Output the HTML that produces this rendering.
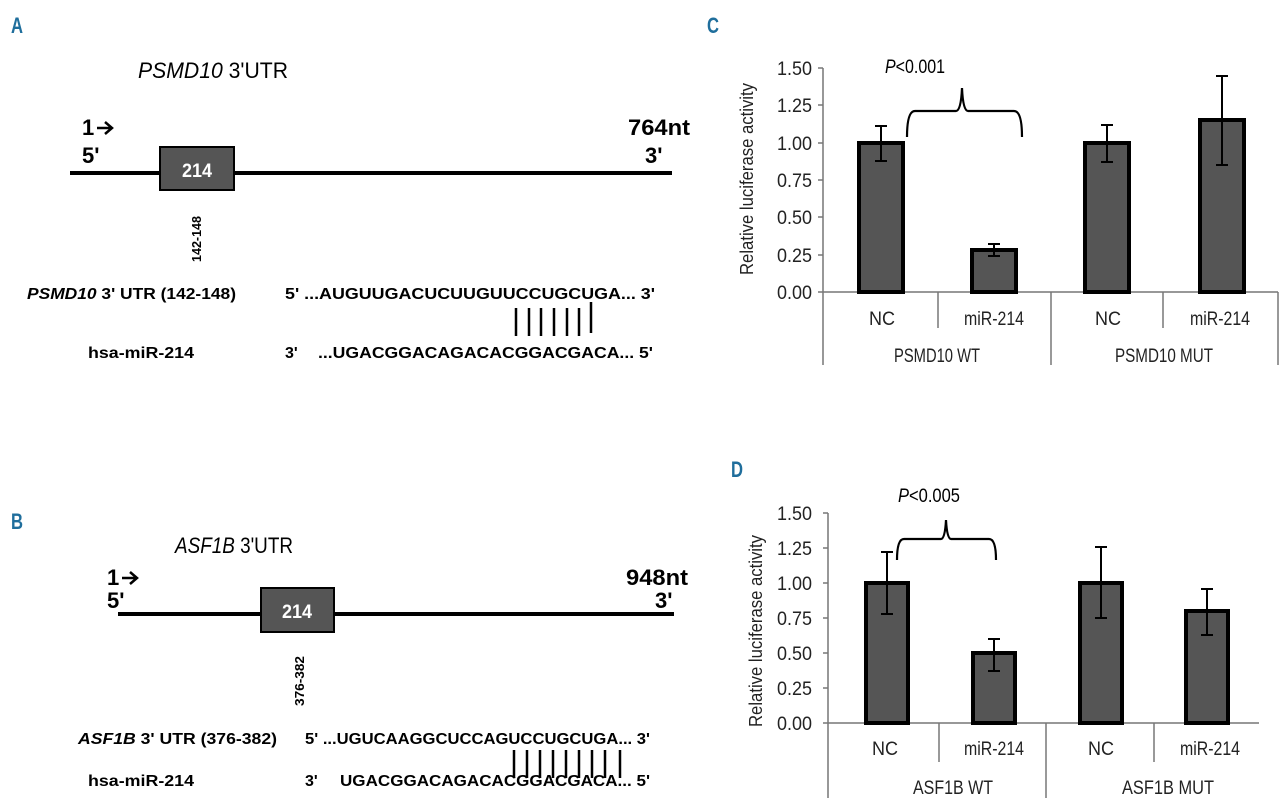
<!DOCTYPE html>
<html><head><meta charset="utf-8"><style>
html,body{margin:0;padding:0;background:#fff;}
svg{display:block;}
.n{font-family:"Liberation Sans",sans-serif;}
.b{font-family:"Liberation Sans",sans-serif;font-weight:bold;}
.lab{font-family:"Liberation Sans",sans-serif;font-weight:bold;fill:#1f6e9c;font-size:22px;}
</style></head><body>
<svg width="1280" height="808" viewBox="0 0 1280 808" xmlns="http://www.w3.org/2000/svg">
<rect width="1280" height="808" fill="#fff"/>
<!-- Panel labels -->
<text class="lab" x="11" y="33" textLength="12" lengthAdjust="spacingAndGlyphs">A</text>
<text class="lab" x="11" y="529" textLength="12" lengthAdjust="spacingAndGlyphs">B</text>
<text class="lab" x="707" y="33" textLength="12" lengthAdjust="spacingAndGlyphs">C</text>
<text class="lab" x="731" y="477" textLength="12" lengthAdjust="spacingAndGlyphs">D</text>

<!-- Panel A -->
<text class="n" x="138" y="78" font-size="22" textLength="150" lengthAdjust="spacingAndGlyphs"><tspan font-style="italic">PSMD10</tspan> 3'UTR</text>
<text class="b" x="82" y="135" font-size="22">1</text>
<path d="M97 128H111M105 122L112 128L105 134" stroke="#000" stroke-width="2.5" fill="none"/>
<text class="b" x="82" y="163" font-size="22">5'</text>
<text class="b" x="628" y="135" font-size="22" textLength="62" lengthAdjust="spacingAndGlyphs">764nt</text>
<text class="b" x="645" y="163" font-size="22">3'</text>
<line x1="70" y1="173" x2="672" y2="173" stroke="#000" stroke-width="4"/>
<rect x="160" y="147" width="74" height="43" fill="#555" stroke="#000" stroke-width="2"/>
<text class="b" x="197" y="177" font-size="19" fill="#fff" text-anchor="middle" textLength="30" lengthAdjust="spacingAndGlyphs">214</text>
<text class="b" font-size="13" transform="translate(201,262) rotate(-90)" textLength="46" lengthAdjust="spacingAndGlyphs">142-148</text>
<text class="b" x="27" y="299" font-size="16" textLength="209" lengthAdjust="spacingAndGlyphs"><tspan font-style="italic">PSMD10</tspan>  3' UTR (142-148)</text>
<text class="b" x="285" y="299" font-size="16" textLength="370" lengthAdjust="spacingAndGlyphs">5' ...AUGUUGACUCUUGUUCCUGCUGA... 3'</text>
<g stroke="#000" stroke-width="2.5">
<line x1="516" y1="308" x2="516" y2="336"/><line x1="529" y1="308" x2="529" y2="336"/><line x1="541" y1="308" x2="541" y2="336"/><line x1="554" y1="308" x2="554" y2="336"/><line x1="567" y1="308" x2="567" y2="336"/><line x1="579" y1="308" x2="579" y2="336"/><line x1="591" y1="302" x2="591" y2="333"/>
</g>
<text class="b" x="88" y="358" font-size="16" textLength="106" lengthAdjust="spacingAndGlyphs">hsa-miR-214</text>
<text class="b" x="285" y="358" font-size="16">3'</text>
<text class="b" x="318" y="358" font-size="16" textLength="335" lengthAdjust="spacingAndGlyphs">...UGACGGACAGACACGGACGACA... 5'</text>

<!-- Panel B -->
<text class="n" x="175" y="553" font-size="22" textLength="118" lengthAdjust="spacingAndGlyphs"><tspan font-style="italic">ASF1B</tspan> 3'UTR</text>
<text class="b" x="107" y="585" font-size="22">1</text>
<path d="M122 578H136M130 572L137 578L130 584" stroke="#000" stroke-width="2.5" fill="none"/>
<text class="b" x="107" y="608" font-size="22">5'</text>
<text class="b" x="626" y="585" font-size="22" textLength="62" lengthAdjust="spacingAndGlyphs">948nt</text>
<text class="b" x="655" y="608" font-size="22">3'</text>
<line x1="118" y1="614" x2="674" y2="614" stroke="#000" stroke-width="4"/>
<rect x="261" y="588" width="73" height="44" fill="#555" stroke="#000" stroke-width="2"/>
<text class="b" x="297" y="618" font-size="19" fill="#fff" text-anchor="middle" textLength="30" lengthAdjust="spacingAndGlyphs">214</text>
<text class="b" font-size="13" transform="translate(304,706) rotate(-90)" textLength="50" lengthAdjust="spacingAndGlyphs">376-382</text>
<text class="b" x="78" y="744" font-size="16" textLength="199" lengthAdjust="spacingAndGlyphs"><tspan font-style="italic">ASF1B</tspan> 3' UTR (376-382)</text>
<text class="b" x="305" y="744" font-size="16" textLength="345" lengthAdjust="spacingAndGlyphs">5' ...UGUCAAGGCUCCAGUCCUGCUGA... 3'</text>
<g stroke="#000" stroke-width="2.5">
<line x1="514" y1="750" x2="514" y2="778"/><line x1="527" y1="750" x2="527" y2="778"/><line x1="540" y1="750" x2="540" y2="778"/><line x1="553" y1="750" x2="553" y2="778"/><line x1="566" y1="750" x2="566" y2="778"/><line x1="579" y1="750" x2="579" y2="778"/><line x1="592" y1="750" x2="592" y2="778"/><line x1="605" y1="750" x2="605" y2="778"/><line x1="620" y1="750" x2="620" y2="778"/>
</g>
<text class="b" x="88" y="786" font-size="16" textLength="106" lengthAdjust="spacingAndGlyphs">hsa-miR-214</text>
<text class="b" x="305" y="786" font-size="16">3'</text>
<text class="b" x="340" y="786" font-size="16" textLength="310" lengthAdjust="spacingAndGlyphs">UGACGGACAGACACGGACGACA... 5'</text>

<!-- Panel C -->
<g class="n" font-size="19" fill="#222" text-anchor="end">
<text x="812" y="75" textLength="35" lengthAdjust="spacingAndGlyphs">1.50</text><text x="812" y="112" textLength="35" lengthAdjust="spacingAndGlyphs">1.25</text><text x="812" y="150" textLength="35" lengthAdjust="spacingAndGlyphs">1.00</text><text x="812" y="187" textLength="35" lengthAdjust="spacingAndGlyphs">0.75</text><text x="812" y="224" textLength="35" lengthAdjust="spacingAndGlyphs">0.50</text><text x="812" y="262" textLength="35" lengthAdjust="spacingAndGlyphs">0.25</text><text x="812" y="299" textLength="35" lengthAdjust="spacingAndGlyphs">0.00</text>
</g>
<text class="n" font-size="18" fill="#222" text-anchor="middle" transform="translate(753,179) rotate(-90)" textLength="192" lengthAdjust="spacingAndGlyphs">Relative luciferase activity</text>
<g stroke="#777" stroke-width="1.5">
<line x1="823" y1="68" x2="823" y2="365"/>
<line x1="818" y1="68" x2="823" y2="68"/><line x1="818" y1="105" x2="823" y2="105"/><line x1="818" y1="143" x2="823" y2="143"/><line x1="818" y1="180" x2="823" y2="180"/><line x1="818" y1="217" x2="823" y2="217"/><line x1="818" y1="255" x2="823" y2="255"/>
<line x1="818" y1="292" x2="1278" y2="292"/>
<line x1="938" y1="292" x2="938" y2="328"/><line x1="1051" y1="292" x2="1051" y2="365"/><line x1="1163" y1="292" x2="1163" y2="328"/><line x1="1278" y1="292" x2="1278" y2="365"/>
</g>
<g fill="#555" stroke="#000" stroke-width="4">
<rect x="859" y="143" width="44" height="149"/>
<rect x="972" y="250" width="44" height="42"/>
<rect x="1085" y="143" width="44" height="149"/>
<rect x="1200" y="120" width="44" height="172"/>
</g>
<g stroke="#000" stroke-width="2" fill="none">
<path d="M881 126V161M875 126H887M875 161H887"/>
<path d="M994 244V256M988 244H1000M988 256H1000"/>
<path d="M1107 125V162M1101 125H1113M1101 162H1113"/>
<path d="M1222 76V165M1216 76H1228M1216 165H1228"/>
<path d="M907 137Q907 111 915 111H956Q961 111 962 88Q963 111 968 111H1014Q1022 111 1022 137" stroke-width="2.2"/>
</g>
<text class="n" x="915" y="73" font-size="19" text-anchor="middle" textLength="60" lengthAdjust="spacingAndGlyphs"><tspan font-style="italic">P</tspan>&lt;0.001</text>
<g class="n" font-size="19" fill="#222" text-anchor="middle">
<text x="882" y="325" textLength="26" lengthAdjust="spacingAndGlyphs">NC</text><text x="994" y="325" textLength="60" lengthAdjust="spacingAndGlyphs">miR-214</text><text x="1108" y="325" textLength="26" lengthAdjust="spacingAndGlyphs">NC</text><text x="1220" y="325" textLength="60" lengthAdjust="spacingAndGlyphs">miR-214</text>
<text x="937" y="362" textLength="86" lengthAdjust="spacingAndGlyphs">PSMD10 WT</text><text x="1164" y="362" textLength="98" lengthAdjust="spacingAndGlyphs">PSMD10 MUT</text>
</g>

<!-- Panel D -->
<g class="n" font-size="19" fill="#222" text-anchor="end">
<text x="812" y="520" textLength="35" lengthAdjust="spacingAndGlyphs">1.50</text><text x="812" y="555" textLength="35" lengthAdjust="spacingAndGlyphs">1.25</text><text x="812" y="590" textLength="35" lengthAdjust="spacingAndGlyphs">1.00</text><text x="812" y="625" textLength="35" lengthAdjust="spacingAndGlyphs">0.75</text><text x="812" y="660" textLength="35" lengthAdjust="spacingAndGlyphs">0.50</text><text x="812" y="695" textLength="35" lengthAdjust="spacingAndGlyphs">0.25</text><text x="812" y="730" textLength="35" lengthAdjust="spacingAndGlyphs">0.00</text>
</g>
<text class="n" font-size="18" fill="#222" text-anchor="middle" transform="translate(762,631) rotate(-90)" textLength="192" lengthAdjust="spacingAndGlyphs">Relative luciferase activity</text>
<g stroke="#777" stroke-width="1.5">
<line x1="828" y1="513" x2="828" y2="798"/>
<line x1="823" y1="513" x2="828" y2="513"/><line x1="823" y1="548" x2="828" y2="548"/><line x1="823" y1="583" x2="828" y2="583"/><line x1="823" y1="618" x2="828" y2="618"/><line x1="823" y1="653" x2="828" y2="653"/><line x1="823" y1="688" x2="828" y2="688"/>
<line x1="823" y1="723" x2="1259" y2="723"/>
<line x1="939" y1="723" x2="939" y2="762"/><line x1="1046" y1="723" x2="1046" y2="798"/><line x1="1154" y1="723" x2="1154" y2="762"/>
</g>
<g fill="#555" stroke="#000" stroke-width="4">
<rect x="866" y="583" width="42" height="140"/>
<rect x="973" y="653" width="42" height="70"/>
<rect x="1080" y="583" width="42" height="140"/>
<rect x="1186" y="611" width="42" height="112"/>
</g>
<g stroke="#000" stroke-width="2" fill="none">
<path d="M887 552V614M881 552H893M881 614H893"/>
<path d="M994 639V671M988 639H1000M988 671H1000"/>
<path d="M1101 547V618M1095 547H1107M1095 618H1107"/>
<path d="M1207 589V635M1201 589H1213M1201 635H1213"/>
<path d="M897 560Q897 539 904 539H941Q945 539 946 520Q947 539 951 539H989Q996 539 996 560" stroke-width="2.2"/>
</g>
<text class="n" x="929" y="502" font-size="19" text-anchor="middle" textLength="62" lengthAdjust="spacingAndGlyphs"><tspan font-style="italic">P</tspan>&lt;0.005</text>
<g class="n" font-size="19" fill="#222" text-anchor="middle">
<text x="885" y="755" textLength="26" lengthAdjust="spacingAndGlyphs">NC</text><text x="994" y="755" textLength="60" lengthAdjust="spacingAndGlyphs">miR-214</text><text x="1101" y="755" textLength="26" lengthAdjust="spacingAndGlyphs">NC</text><text x="1210" y="755" textLength="60" lengthAdjust="spacingAndGlyphs">miR-214</text>
<text x="953" y="794" textLength="80" lengthAdjust="spacingAndGlyphs">ASF1B WT</text><text x="1168" y="794" textLength="92" lengthAdjust="spacingAndGlyphs">ASF1B MUT</text>
</g>
</svg>
</body></html>
